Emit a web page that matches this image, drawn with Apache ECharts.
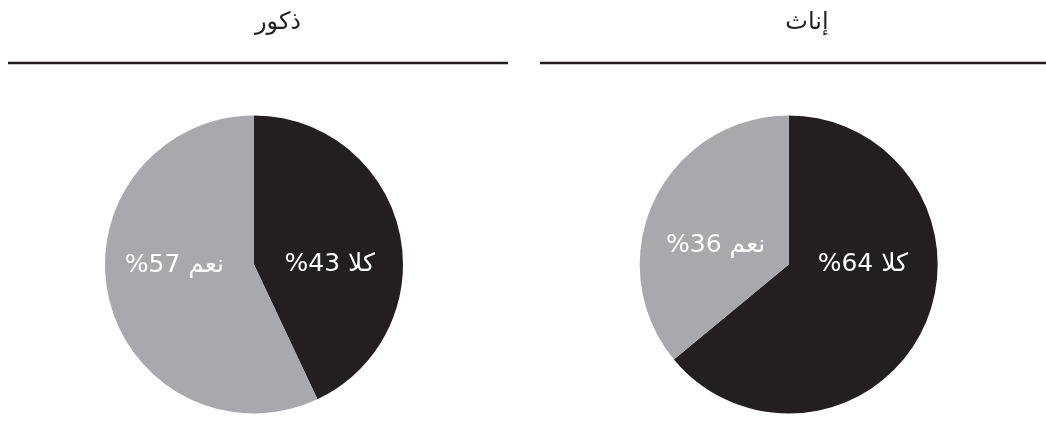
<!DOCTYPE html>
<html>
<head>
<meta charset="utf-8">
<script src="https://cdn.jsdelivr.net/npm/echarts@6/dist/echarts.min.js"></script>
<style>
html,body{margin:0;padding:0;background:#fff;}
#c{width:1046px;height:422px;}
</style>
</head>
<body>
<div id="c"></div>
<script>
// Data
var groups = ['ذكور', 'إناث'];
var answers = ['كلا', 'نعم'];
var males = [43, 57];
var females = [64, 36];

var colors = ['#231f20', '#a7a9ac'];
var font = '"DejaVu Sans", "Noto Sans", sans-serif';

function labelFmt(p) { return '%' + p.value + ' ' + p.name; }

function makeData(vals, offsets) {
  return vals.map(function (v, i) {
    return { name: answers[i], value: v, itemStyle: { color: colors[i] },
             label: { offset: offsets[i] } };
  });
}

function pie(center, vals, offsets) {
  return {
    type: 'pie',
    center: center,
    radius: 149,
    startAngle: 90,
    clockwise: true,
    silent: true,
    animation: false,
    label: { show: true, position: 'inside', formatter: labelFmt, color: '#fff',
             fontSize: 25, fontFamily: font },
    labelLine: { show: false },
    itemStyle: { borderWidth: 0 },
    data: makeData(vals, offsets)
  };
}

var chart = echarts.init(document.getElementById('c'), null, { renderer: 'canvas' });
chart.setOption({
  animation: false,
  graphic: [
    { type: 'text', x: 278, y: 23, style: { text: groups[0], fontSize: 24, fontFamily: font, fill: '#231f20', textAlign: 'center', textVerticalAlign: 'middle' } },
    { type: 'text', x: 807, y: 23, style: { text: groups[1], fontSize: 24, fontFamily: font, fill: '#231f20', textAlign: 'center', textVerticalAlign: 'middle' } },
    { type: 'line', shape: { x1: 8, y1: 63, x2: 508, y2: 63 }, style: { stroke: '#231f20', lineWidth: 2.6 } },
    { type: 'line', shape: { x1: 540, y1: 63, x2: 1046, y2: 63 }, style: { stroke: '#231f20', lineWidth: 2.6 } }
  ],
  series: [
    pie([254, 264.5], males, [[0, 17], [-4, -16]]),
    pie([788.7, 264.5], females, [[4, -33], [-3, 14]])
  ]
});
</script>
</body>
</html>
